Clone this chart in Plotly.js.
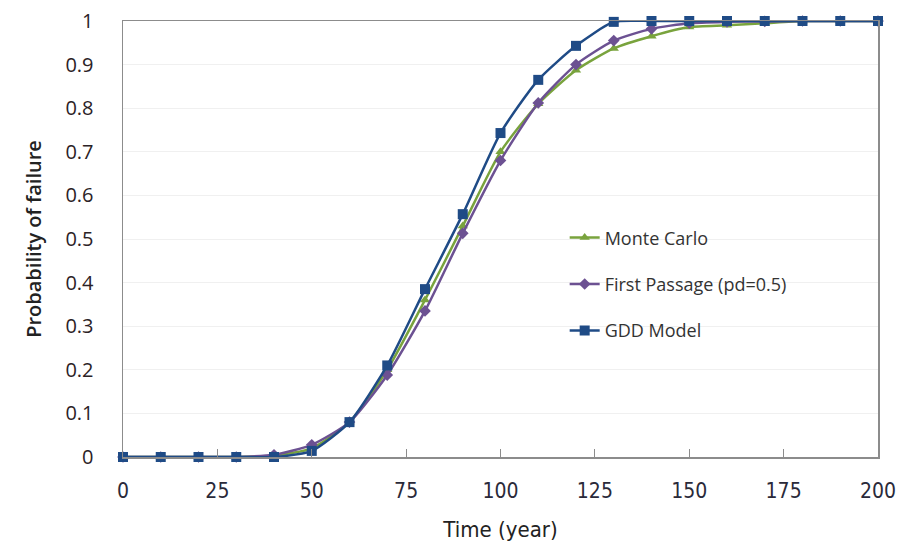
<!DOCTYPE html>
<html>
<head>
<meta charset="utf-8">
<script src="https://cdn.plot.ly/plotly-3.0.1.min.js"></script>
<style>html,body{margin:0;padding:0;background:#fff;}#chart{width:897px;height:546px;}</style>
</head>
<body>
<div id="chart"></div>
<script>
const years = [0,10,20,30,40,50,60,70,80,90,100,110,120,130,140,150,160,170,180,190,200];
const monteCarlo = [0,0,0,0,0.003,0.02,0.08,0.2,0.36,0.53,0.70,0.81,0.887,0.937,0.965,0.986,0.99,0.995,1,1,1];
const firstPassage = [0,0,0,0,0.005,0.028,0.08,0.188,0.335,0.513,0.68,0.812,0.9,0.955,0.982,0.995,0.998,0.999,1,1,1];
const gddModel = [0,0,0,0,0,0.014,0.08,0.21,0.385,0.557,0.743,0.865,0.943,0.998,1,1,1,1,1,1,1];
const seriesNames = ["Monte Carlo","First Passage (pd=0.5)","GDD Model"];
const xTicks = [0,25,50,75,100,125,150,175,200];
const yTicks = [0,0.1,0.2,0.3,0.4,0.5,0.6,0.7,0.8,0.9,1];

function tr(y, name, color, symbol, size, grp){
  return {x: years, y: y, name: name, legendgroup: grp, type:'scatter', mode:'lines+markers', cliponaxis:false,
    line:{color:color, width:2.5, shape:'spline', smoothing:0.6},
    marker:{color:color, symbol:symbol, size:size}};
}
const data = [
  tr(monteCarlo, seriesNames[0], '#79a33d', 'triangle-up', 9, 'a'),
  tr(firstPassage, seriesNames[1], '#6c5192', 'diamond', 9, 'b'),
  tr(gddModel, seriesNames[2], '#1f4b86', 'square', 10, 'c')
];
const layout = {
  width:897, height:546,
  margin:{l:123, r:19, t:21, b:89},
  paper_bgcolor:'#fff', plot_bgcolor:'#fff',
  showlegend:true,
  legend:{x:0.585, y:0.545, xanchor:'left', yanchor:'top', bgcolor:'rgba(0,0,0,0)',
    traceorder:'grouped', tracegroupgap:20,
    font:{family:'Open Sans, Noto Sans, sans-serif', size:18, color:'#333'}},
  xaxis:{range:[0,200], tickvals:xTicks, ticktext:xTicks.map(String),
    showgrid:false, zeroline:false, showline:true, linecolor:'#8c8c8c', linewidth:1.5, mirror:true,
    ticks:'inside', ticklen:8, tickcolor:'#8c8c8c',
    tickfont:{family:'Liberation Sans Narrow, DejaVu Sans Condensed, sans-serif', size:21, color:'#2a2a3a'},
    ticklabelstandoff:14,
    title:{text:'Time (year)', standoff:20, font:{family:'Liberation Sans Narrow, DejaVu Sans Condensed, sans-serif', size:22, color:'#222'}}},
  yaxis:{range:[0,1], tickvals:yTicks, ticktext:yTicks.map(v=>String(v)),
    showgrid:true, gridcolor:'#f0f0f0', zeroline:false, showline:true, linecolor:'#8c8c8c', linewidth:1.5, mirror:true,
    ticks:'', tickfont:{family:'Open Sans, Noto Sans, sans-serif', size:20, color:'#2b2226'},
    ticklabelstandoff:24,
    title:{text:'Probability of failure', standoff:18, font:{family:'Open Sans, Noto Sans, sans-serif', size:20, color:'#222', weight:600}}}
};
Plotly.newPlot('chart', data, layout, {displayModeBar:false, staticPlot:true});
</script>
</body>
</html>
